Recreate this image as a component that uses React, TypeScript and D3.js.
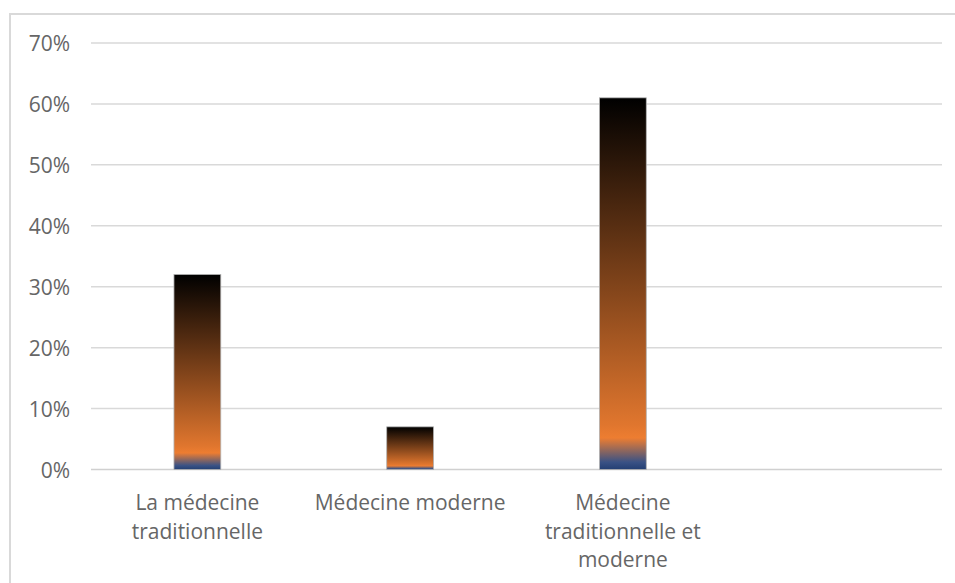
import React from "react";
import * as d3 from "d3";

const categories: string[] = [
  "La médecine\ntraditionnelle",
  "Médecine moderne",
  "Médecine\ntraditionnelle et\nmoderne",
  "",
];
const values: (number | null)[] = [0.32, 0.07, 0.61, null];
const yTicks: number[] = [0, 0.1, 0.2, 0.3, 0.4, 0.5, 0.6, 0.7];

const W = 955;
const H = 583;
const M = { left: 91, right: 942, top: 43, bottom: 469.5 };
const FONT = "'Open Sans', 'Liberation Sans', sans-serif";

export default function App() {
  const x = d3
    .scaleBand<string>()
    .domain(categories.map((c, i) => String(i)))
    .range([M.left, M.right])
    .paddingInner(0.78)
    .paddingOuter(0.39);
  const y = d3.scaleLinear().domain([0, 0.7]).range([M.bottom, M.top]);
  const fmt = d3.format(".0%");
  const band = (M.right - M.left) / categories.length;

  return (
    <svg
      width={W}
      height={H}
      style={{ position: "absolute", left: 0, top: 0, background: "#fff" }}
    >
      <defs>
        <linearGradient id="barGrad" x1="0" y1="1" x2="0" y2="0">
          <stop offset="0" stopColor="#233f73" />
          <stop offset="0.02" stopColor="#3a5285" />
          <stop offset="0.085" stopColor="#ED7D31" />
          <stop offset="0.12" stopColor="#E0762E" />
          <stop offset="1" stopColor="#000000" />
        </linearGradient>
      </defs>
      <rect x={10} y={14} width={W + 10} height={H + 10} fill="#fff" stroke="#d9d9d9" strokeWidth={2} />
      {yTicks.map((t) => (
        <g key={t}>
          <line
            x1={M.left}
            x2={M.right}
            y1={y(t)}
            y2={y(t)}
            stroke={t === 0 ? "#d0d0d0" : "#d9d9d9"}
            strokeWidth={1.5}
          />
          <text
            x={70}
            y={y(t) + 8}
            textAnchor="end"
            fontFamily={FONT}
            fontSize={21}
            fill="#666666"
          >
            {fmt(t)}
          </text>
        </g>
      ))}
      {values.map((v, i) =>
        v == null ? null : (
          <rect
            key={i}
            x={x(String(i))}
            y={y(v)}
            width={x.bandwidth()}
            height={y(0) - y(v)}
            fill="url(#barGrad)"
            stroke="#b0b0b0"
            strokeWidth={0.8}
          />
        )
      )}
      {categories.map((c, i) => {
        const cx = M.left + band * (i + 0.5);
        return (
          <text
            key={i}
            textAnchor="middle"
            fontFamily={FONT}
            fontSize={21}
            fill="#666666"
          >
            {c.split("\n").map((line, j) => (
              <tspan key={j} x={cx} y={510 + j * 28.5}>
                {line}
              </tspan>
            ))}
          </text>
        );
      })}
    </svg>
  );
}
